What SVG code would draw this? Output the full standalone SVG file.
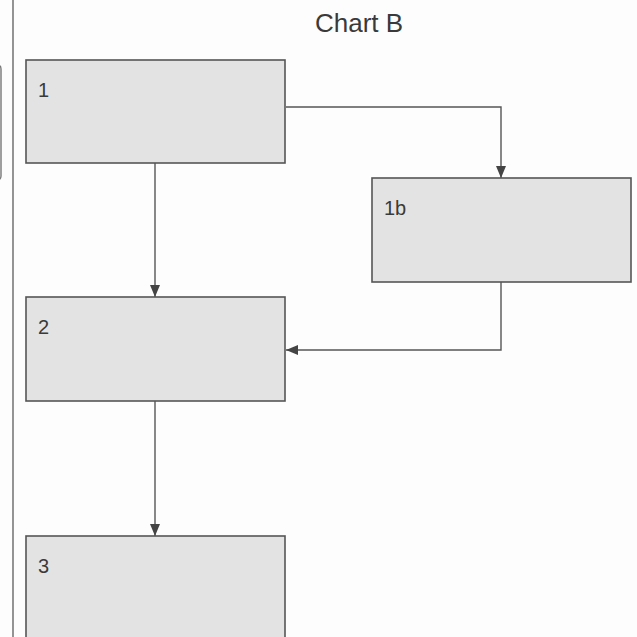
<svg xmlns="http://www.w3.org/2000/svg" width="637" height="637" viewBox="0 0 637 637">
<style>
.box{fill:#e3e3e3;stroke:#555;stroke-width:1.6}
.lbl{font-family:"Liberation Sans",Arial,sans-serif;font-size:20px;fill:#3a3a3a}
.title{font-family:"Liberation Sans",Arial,sans-serif;font-size:26px;fill:#3a3a3a}
.con{fill:none;stroke:#555;stroke-width:1.4}
</style>
<defs>
<marker id="arr" viewBox="0 0 12 10" refX="12" refY="5" markerWidth="12" markerHeight="10" markerUnits="userSpaceOnUse" orient="auto">
<path d="M0,0 L12,5 L0,10 Z" fill="#444"/>
</marker>
</defs>
<rect width="637" height="637" fill="#fdfdfd"/>
<line x1="13" y1="0" x2="13" y2="637" stroke="#666" stroke-width="1.4"/>
<path d="M-10,65 L-3,65 Q1,65 1,69 L1,176 Q1,180 -3,180 L-10,180" fill="none" stroke="#777" stroke-width="1.4"/>
<text class="title" x="315" y="32">Chart B</text>
<g id="connectors">
<path class="con" d="M155,163 L155,297" marker-end="url(#arr)"/>
<path class="con" d="M286,107 L501,107 L501,178" marker-end="url(#arr)"/>
<path class="con" d="M501,282 L501,350 L286,350" marker-end="url(#arr)"/>
<path class="con" d="M155,401 L155,536" marker-end="url(#arr)"/>
</g>
<g id="node1"><rect class="box" x="26" y="60" width="259" height="103"/><text class="lbl" x="38" y="97">1</text></g>
<g id="node1b"><rect class="box" x="372" y="178" width="259" height="104"/><text class="lbl" x="384" y="215">1b</text></g>
<g id="node2"><rect class="box" x="26" y="297" width="259" height="104"/><text class="lbl" x="38" y="334">2</text></g>
<g id="node3"><rect class="box" x="26" y="536" width="259" height="110"/><text class="lbl" x="38" y="573">3</text></g>
</svg>
